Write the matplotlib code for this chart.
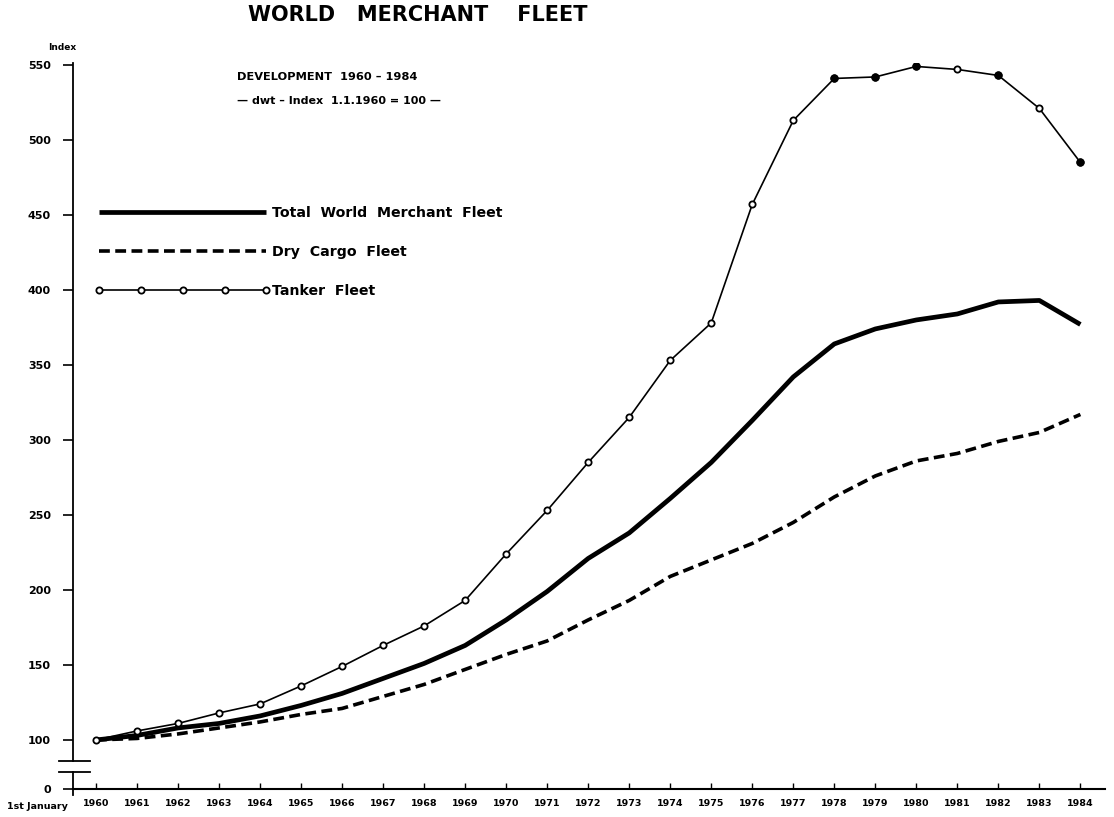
import matplotlib
matplotlib.use("Agg")
import matplotlib.pyplot as plt

# dwt index, 1.1.1960 = 100
years = list(range(1960, 1985))
total_fleet = [100, 103, 108, 111, 116, 123, 131, 141, 151, 163, 180, 199, 221, 238,
               261, 285, 313, 342, 364, 374, 380, 384, 392, 393, 377]
dry_cargo = [100, 101, 104, 108, 112, 117, 121, 129, 137, 147, 157, 166, 180, 193,
             209, 220, 231, 245, 262, 276, 286, 291, 299, 305, 317]
tanker = [100, 106, 111, 118, 124, 136, 149, 163, 176, 193, 224, 253, 285, 315,
          353, 378, 457, 513, 541, 542, 549, 547, 543, 521, 485]
tanker_filled = [1978, 1979, 1980, 1982, 1984]

y_ticks = [100, 150, 200, 250, 300, 350, 400, 450, 500, 550]
y_zero = 67.3   # where the broken axis puts "0"

W, H = 1114, 817
fig = plt.figure(figsize=(W / 100, H / 100), dpi=100)
ax = fig.add_axes([73 / W, 1 - 789 / H, (1105 - 73) / W, (789 - 63) / H])
ax.set_xlim(1959.44, 1984.6)
ax.set_ylim(y_zero, 551.3)

ax.plot(years, total_fleet, color="black", lw=3.4, solid_capstyle="butt",
        label="Total  World  Merchant  Fleet")
ax.plot(years, dry_cargo, color="black", lw=2.6, dashes=(3, 1.5),
        label="Dry  Cargo  Fleet")
ax.plot(years, tanker, color="black", lw=1.2, marker="o", ms=4.5, mew=1.3,
        mfc="white", mec="black", label="Tanker  Fleet")
filled = [(y, v) for y, v in zip(years, tanker) if y in tanker_filled]
ax.plot([f[0] for f in filled], [f[1] for f in filled], ls="none", marker="o",
        ms=5, color="black")

# axes: only left and bottom, left one broken near the bottom
for s in ["top", "right"]:
    ax.spines[s].set_visible(False)
ax.spines["left"].set_bounds(86, 551.3)
ax.spines["left"].set_linewidth(1.3)
ax.spines["bottom"].set_linewidth(1.5)
ax.plot([1959.44, 1959.44], [y_zero - 4, 78.7], color="black", lw=1.3, clip_on=False)
for yb in [86, 78.7]:
    ax.plot([1959.1, 1959.85], [yb, yb], color="black", lw=1.3, clip_on=False)

ax.set_yticks([y_zero] + y_ticks)
ax.set_yticklabels(["0"] + [str(v) for v in y_ticks], fontsize=8, fontweight="bold")
ax.tick_params(axis="y", direction="out", length=7, width=1.2, pad=9)

ax.set_xticks(years)
ax.set_xticklabels([str(y) for y in years], fontsize=6.8, fontweight="bold")
ax.tick_params(axis="x", direction="in", length=4, width=1.0, pad=7)
ax.text(-0.005, -0.0245, "1st January", transform=ax.transAxes, ha="right", va="center",
        fontsize=6.8, fontweight="bold")

# titles
fig.text(418 / W, 1 - 15 / H, "WORLD   MERCHANT    FLEET", ha="center", va="center",
         fontsize=15, fontweight="bold")
fig.text(237 / W, 1 - 77 / H, "DEVELOPMENT  1960 \u2013 1984", ha="left", va="center",
         fontsize=8.2, fontweight="bold")
fig.text(237 / W, 1 - 101 / H, "\u2014 dwt \u2013 Index  1.1.1960 = 100 \u2014",
         ha="left", va="center", fontsize=8, fontweight="bold")
fig.text(62 / W, 1 - 47 / H, "Index", ha="center", va="center", fontsize=6.5,
         fontweight="bold")

ax.legend(loc="upper left", bbox_to_anchor=(95 / W, 1 - 206 / H),
          bbox_transform=fig.transFigure, frameon=False, borderpad=0,
          borderaxespad=0, handlelength=12.4, handletextpad=0.1, labelspacing=1.75,
          numpoints=5, prop={"size": 10.2, "weight": "bold"})

fig.savefig("out.png", dpi=100)
